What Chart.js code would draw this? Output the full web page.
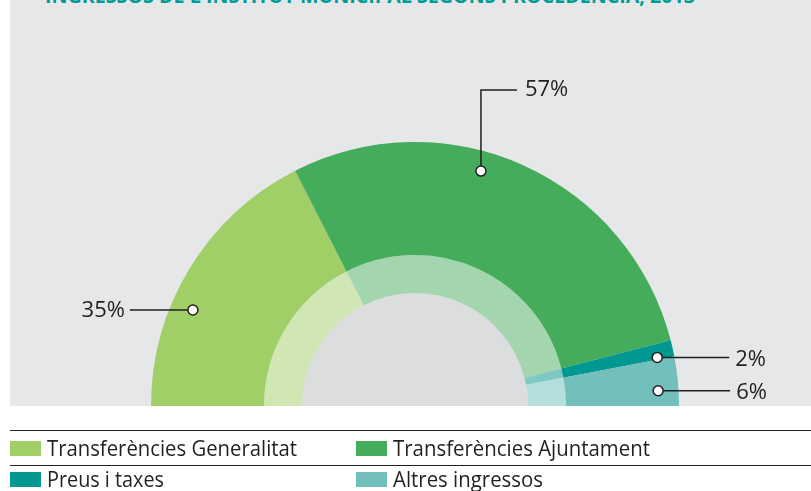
<!DOCTYPE html>
<html><head><meta charset="utf-8">
<script src="https://cdn.jsdelivr.net/npm/chart.js@4/dist/chart.umd.min.js"></script>
<style>
html,body{margin:0;padding:0;background:#fff;}
body{width:811px;height:491px;overflow:hidden;position:relative;font-family:"Open Sans",sans-serif;color:#231F20;}
#panel{position:absolute;left:10px;top:0;width:801px;height:406px;background:#E6E7E8;overflow:hidden;}
#title{position:absolute;left:35px;top:-14px;line-height:20px;font-size:20px;font-weight:700;color:#009B95;white-space:nowrap;transform-origin:0 0;}
#wrap{position:absolute;left:0;top:0;width:811px;height:491px;}
.rule{position:absolute;left:10px;width:801px;height:0;border-top:1.6px solid #231F20;}
.sw{position:absolute;width:31px;height:15px;}
.lt{position:absolute;font-size:21px;font-weight:400;line-height:21px;white-space:nowrap;transform-origin:0 0;}
</style></head>
<body>
<div id="panel"><div id="title"></div></div>
<div id="wrap"><canvas id="c"></canvas></div>
<div id="legend"></div>
<script>
const titleText = "INGRESSOS DE L'INSTITUT MUNICIPAL SEGONS PROCEDÈNCIA, 2013";
const categories = ['Transferències Generalitat','Transferències Ajuntament','Preus i taxes','Altres ingressos'];
const shares = [35, 57, 2, 6];
const colors = ['#A0CF67','#45AC5C','#009891','#72BFBC'];
const paleColors = ['#D0E6B3','#A3D5AF','#7FC8C4','#B4DFDD'];

// annotation anchor styling (fraction of slice angle / ring thickness)
const anchors = [
  {a:0.371, r:0.805, dir:'left',  len:63, gap:5},
  {a:0.416, r:0.823, dir:'up',    rise:81, len:36, gap:8},
  {a:0.85,  r:0.85,  dir:'right', len:72, gap:6},
  {a:0.667, r:0.82,  dir:'right', len:72, gap:6}
];

const t = document.getElementById('title');
t.textContent = titleText;

const legend = document.getElementById('legend');
const rules = [430, 465];
rules.forEach(y => { const d=document.createElement('div'); d.className='rule'; d.style.top=y+'px'; legend.appendChild(d); });
const cols = [10, 356], rows = [441, 472];
const targetW = [250, 257, 117, 150];
categories.forEach((c,i) => {
  const col = cols[i%2], row = rows[Math.floor(i/2)];
  const s=document.createElement('div'); s.className='sw'; s.style.left=col+'px'; s.style.top=row+'px'; s.style.background=colors[i]; legend.appendChild(s);
  const l=document.createElement('div'); l.className='lt'; l.textContent=c; l.style.left=(col+37)+'px'; l.style.top=(row-3)+'px'; legend.appendChild(l);
  l.dataset.tw = targetW[i];
});
function fit(){
  document.querySelectorAll('.lt').forEach(l => { l.style.transform='none'; const w=l.getBoundingClientRect().width; l.style.transform='scaleX('+(l.dataset.tw/w)+')'; });
  t.style.transform='none'; const tw = t.getBoundingClientRect().width; t.style.transform='scaleX('+(650/tw)+')';
}

const diskPlugin = {
  id:'disk',
  beforeDatasetsDraw(chart){
    const arc = chart.getDatasetMeta(1).data[0];
    const ctx = chart.ctx; ctx.save();
    ctx.beginPath(); ctx.moveTo(arc.x, arc.y);
    ctx.arc(arc.x, arc.y, arc.innerRadius, Math.PI, 2*Math.PI);
    ctx.closePath(); ctx.fillStyle='#DCDDDF'; ctx.fill(); ctx.restore();
  }
};
const calloutPlugin = {
  id:'callouts',
  afterDatasetsDraw(chart){
    const ctx = chart.ctx; const meta = chart.getDatasetMeta(0);
    ctx.save();
    ctx.strokeStyle='#231F20'; ctx.lineWidth=1.5; ctx.fillStyle='#231F20';
    ctx.font='400 22px "Open Sans"'; ctx.textBaseline='middle';
    meta.data.forEach((arc,i) => {
      const an = anchors[i];
      const ang = arc.startAngle + an.a*(arc.endAngle-arc.startAngle);
      const rad = arc.innerRadius + an.r*(arc.outerRadius-arc.innerRadius);
      const px = arc.x + rad*Math.cos(ang), py = arc.y + rad*Math.sin(ang);
      const txt = shares[i] + '%';
      ctx.beginPath();
      if (an.dir==='left'){
        ctx.moveTo(px,py); ctx.lineTo(px-an.len,py); ctx.stroke();
        ctx.textAlign='right'; ctx.fillText(txt, px-an.len-an.gap, py+1);
      } else if (an.dir==='right'){
        ctx.moveTo(px,py); ctx.lineTo(px+an.len,py); ctx.stroke();
        ctx.textAlign='left'; ctx.fillText(txt, px+an.len+an.gap, py+2);
      } else {
        ctx.moveTo(px,py); ctx.lineTo(px,py-an.rise); ctx.lineTo(px+an.len,py-an.rise); ctx.stroke();
        ctx.textAlign='left'; ctx.fillText(txt, px+an.len+an.gap, py-an.rise);
      }
      ctx.beginPath(); ctx.arc(px,py,5,0,2*Math.PI); ctx.fillStyle='#fff'; ctx.fill(); ctx.stroke(); ctx.fillStyle='#231F20';
    });
    ctx.restore();
  }
};

new Chart(document.getElementById('c'), {
  type:'doughnut',
  data:{
    labels: categories,
    datasets:[
      {data: shares, backgroundColor: colors, borderWidth:0, weight:113},
      {data: shares, backgroundColor: paleColors, borderWidth:0, weight:38}
    ]
  },
  options:{
    responsive:true, maintainAspectRatio:false, animation:false, events:[],
    rotation:-90, circumference:180, cutout:'42.8%',
    layout:{padding:{top:142,bottom:85,left:151,right:132}},
    plugins:{legend:{display:false}, tooltip:{enabled:false}, title:{display:false}}
  },
  plugins:[diskPlugin, calloutPlugin]
});
fit();
if (document.fonts && document.fonts.ready) document.fonts.ready.then(fit);
</script>
</body></html>
